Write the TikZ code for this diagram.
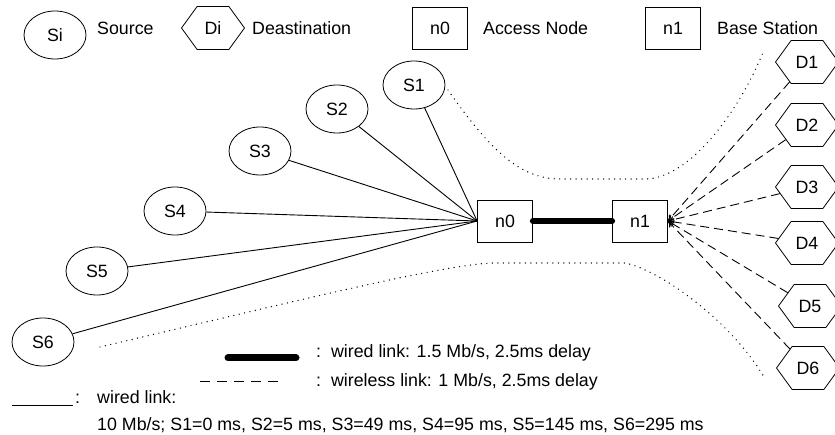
\documentclass[tikz,border=0pt]{standalone}
\usepackage{fontspec}
\setmainfont{Liberation Sans}
\usetikzlibrary{shapes.geometric,shapes.symbols,arrows.meta}

\begin{document}
\begin{tikzpicture}[
  x=1pt, y=-1pt,
  font=\fontsize{17.8}{20}\selectfont,
  src/.style={draw, ellipse, line width=0.8pt, inner sep=0pt, minimum width=62pt, minimum height=48pt},
  dst/.style={draw, signal, signal to=west and east, signal pointer angle=108, line width=0.8pt, inner sep=0pt, minimum width=63pt, minimum height=43pt},
  nodebox/.style={draw, rectangle, line width=0.8pt, inner sep=0pt, minimum width=55pt, minimum height=42pt},
  lbl/.style={anchor=base west, inner sep=0pt},
  wired/.style={line width=0.9pt},
  wireless/.style={line width=0.9pt, dash pattern=on 9pt off 5pt},
  trunk/.style={line width=6pt, line cap=round},
  area/.style={line width=1.4pt, dash pattern=on 0pt off 5.5pt, line cap=round},
  >={To[length=6pt,width=7pt]}
]
\useasboundingbox (0,0) rectangle (835,435);
% legend
\node[src] (si) at (55,35) {Si};
\node[lbl] (srclbl) at (97,35) {Source};
\node[dst] (di) at (213,28) {Di};
\node[lbl] (dstlbl) at (252,35) {Deastination};
\node[nodebox] (n0key) at (440,28) {n0};
\node[lbl] (n0lbl) at (483,35) {Access Node};
\node[nodebox] (n1key) at (673,28) {n1};
\node[lbl] (n1lbl) at (717,35) {Base Station};
% sources
\node[src] (S1) at (414,85) {S1};
\node[src] (S2) at (337,109) {S2};
\node[src] (S3) at (260,151) {S3};
\node[src] (S4) at (175,211) {S4};
\node[src] (S5) at (97,271) {S5};
\node[src] (S6) at (43,342) {S6};
% access node and base station
\node[nodebox] (n0) at (505,221) {n0};
\node[nodebox] (n1) at (640,221) {n1};
% destinations
\node[dst] (D1) at (807,62) {D1};
\node[dst] (D2) at (807,125) {D2};
\node[dst] (D3) at (807,187) {D3};
\node[dst] (D4) at (807,243) {D4};
\node[dst] (D5) at (810,306) {D5};
\node[dst] (D6) at (808,368) {D6};
% links
\draw[wired] (S1) -- (n0.west);
\draw[wired] (S2) -- (n0.west);
\draw[wired] (S3) -- (n0.west);
\draw[wired] (S4) -- (n0.west);
\draw[wired] (S5) -- (n0.west);
\draw[wired] (S6) -- (n0.west);
\draw[trunk] (n0.east) -- (n1.west);
\draw[wireless,->] (D1) -- (n1.east);
\draw[wireless,->] (D2) -- (n1.east);
\draw[wireless,->] (D3) -- (n1.east);
\draw[wireless,->] (D4) -- (n1.east);
\draw[wireless,->] (D5) -- (n1.east);
\draw[wireless,->] (D6) -- (n1.east);
% dotted bounds
\draw[area] (448,90) .. controls (490,150) and (520,179) .. (560,179) -- (645,179)
  .. controls (690,179) and (740,110) .. (764,50);
\draw[area] (100,347) .. controls (300,300) and (450,263) .. (495,263) -- (625,263)
  .. controls (660,270) and (730,320) .. (764,377);
% link legend
\coordinate (tk1) at (228,358);
\coordinate (tk2) at (296,358);
\draw[trunk, line width=7pt] (tk1) -- (tk2);
\node[lbl] (tklbl) at (316,358) {:\ \ wired link: 1.5 Mb/s, 2.5ms delay};
\coordinate (wl1) at (200,381);
\coordinate (wl2) at (283,381);
\draw[line width=0.9pt, dash pattern=on 10pt off 7pt] (wl1) -- (wl2);
\node[lbl] (wllbl) at (316,386) {:\ \ wireless link: 1 Mb/s, 2.5ms delay};
\coordinate (wd1) at (12,405);
\coordinate (wd2) at (73,405);
\draw[wired] (wd1) -- (wd2);
\node[lbl] (wdcolon) at (75,403) {:};
\node[lbl] (wdlbl) at (97,403) {wired link:};
\node[lbl] (wddelay) at (97,430) {10 Mb/s; S1=0 ms, S2=5 ms, S3=49 ms, S4=95 ms, S5=145 ms, S6=295 ms};
\end{tikzpicture}
\end{document}
